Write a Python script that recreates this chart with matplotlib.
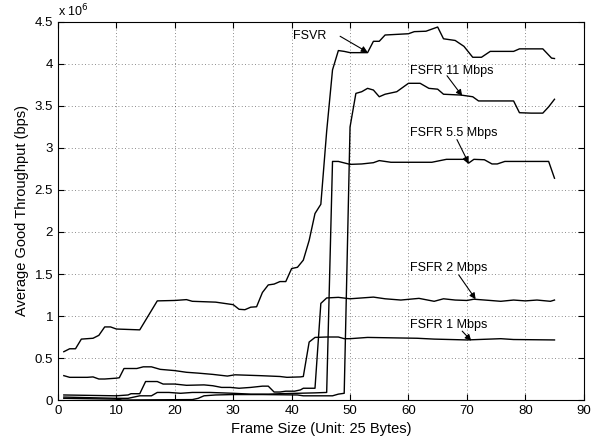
import matplotlib
matplotlib.use("Agg")
import matplotlib.pyplot as plt
from matplotlib.ticker import MultipleLocator, FuncFormatter

plt.rcParams['font.family'] = ['Liberation Sans', 'DejaVu Sans']

# ---- data (throughput in units of 1e6 bps) ----
fsvr_x = [1, 2, 3, 4, 5, 6, 7, 8, 9, 10, 12, 14, 17, 20, 22, 23, 27, 30, 31, 32, 33, 34, 35, 36, 37, 38, 39,
          40, 41, 42, 43, 44, 45, 46, 47, 48, 49, 50, 53, 54, 55, 56, 60, 61, 63, 65, 66, 68, 69.5, 71, 72.5,
          74, 78, 79, 83, 84.5, 85]
fsvr_y = [0.575, 0.61, 0.61, 0.725, 0.73, 0.735, 0.77, 0.87, 0.87, 0.845, 0.84, 0.835, 1.18, 1.185, 1.195,
          1.175, 1.165, 1.135, 1.08, 1.075, 1.105, 1.11, 1.28, 1.37, 1.38, 1.41, 1.41, 1.565, 1.58, 1.665, 1.9,
          2.22, 2.33, 3.2, 3.93, 4.16, 4.15, 4.135, 4.135, 4.27, 4.27, 4.345, 4.36, 4.385, 4.39, 4.44, 4.3,
          4.28, 4.21, 4.08, 4.08, 4.15, 4.15, 4.18, 4.18, 4.07, 4.065]

f11_x = [1, 10, 11, 23, 24, 25, 27, 30, 35, 41, 42, 47, 48, 49, 50, 51, 52, 53, 54, 55, 56, 58, 60, 62, 63.5,
         65, 66, 69, 71, 72, 78, 79, 81, 83, 84, 85]
f11_y = [0.02, 0.01, 0.0, 0.005, 0.02, 0.05, 0.06, 0.065, 0.065, 0.06, 0.05, 0.05, 0.07, 0.08, 3.25, 3.65,
         3.67, 3.71, 3.69, 3.61, 3.64, 3.67, 3.77, 3.77, 3.71, 3.70, 3.64, 3.63, 3.61, 3.56, 3.56, 3.42, 3.415,
         3.415, 3.49, 3.58]

f55_x = [1, 10, 12, 14, 16, 17, 19, 21, 23, 26, 30, 33, 36, 38, 41, 44, 46, 47, 48, 50, 52, 54, 55, 57, 64,
         66.5, 69.5, 70.3, 71.2, 73, 74.3, 75.2, 76.5, 84, 85]
f55_y = [0.035, 0.02, 0.02, 0.05, 0.05, 0.09, 0.09, 0.08, 0.09, 0.09, 0.08, 0.07, 0.07, 0.075, 0.08, 0.085,
         0.09, 2.84, 2.84, 2.805, 2.81, 2.825, 2.85, 2.83, 2.83, 2.865, 2.865, 2.82, 2.865, 2.86, 2.81, 2.81,
         2.84, 2.84, 2.64]

f2_x = [1, 10, 12, 12.5, 14, 15, 17, 18, 20, 22, 25, 26.5, 28, 29.5, 31, 33, 35, 36, 37, 38, 39, 40.5, 41.5,
        42, 44, 45, 46, 48, 50, 52, 54, 56, 58.7, 61.8, 64.4, 66, 68, 70, 71.2, 74, 75.8, 78, 80, 82, 84.3, 85]
f2_y = [0.06, 0.05, 0.06, 0.075, 0.075, 0.22, 0.22, 0.19, 0.19, 0.175, 0.18, 0.17, 0.15, 0.15, 0.14, 0.15,
        0.165, 0.165, 0.095, 0.095, 0.105, 0.105, 0.12, 0.14, 0.14, 1.15, 1.215, 1.222, 1.205, 1.215, 1.225,
        1.205, 1.19, 1.21, 1.175, 1.205, 1.19, 1.185, 1.2, 1.185, 1.175, 1.19, 1.18, 1.19, 1.175, 1.19]

f1_x = [1, 2, 5, 6, 7, 8, 10, 10.5, 11.3, 13.5, 14.6, 16, 17.5, 20, 22, 24, 26.5, 29, 30.3, 34.6, 38, 39.2,
        41.5, 42, 43, 44, 46, 48, 49, 50, 53, 61.5, 64.4, 70, 75.8, 78, 85]
f1_y = [0.29, 0.27, 0.27, 0.275, 0.25, 0.25, 0.26, 0.265, 0.375, 0.375, 0.395, 0.395, 0.365, 0.35, 0.33,
        0.32, 0.305, 0.285, 0.3, 0.29, 0.28, 0.27, 0.275, 0.28, 0.69, 0.745, 0.75, 0.75, 0.73, 0.73, 0.745,
        0.735, 0.725, 0.715, 0.73, 0.72, 0.715]

series = [(fsvr_x, fsvr_y), (f11_x, f11_y), (f55_x, f55_y), (f2_x, f2_y), (f1_x, f1_y)]

labels = ["FSVR", "FSFR 11 Mbps", "FSFR 5.5 Mbps", "FSFR 2 Mbps", "FSFR 1 Mbps"]
label_pos = [(40.3, 4.33), (60.3, 3.92), (60.3, 3.18), (60.3, 1.57), (60.3, 0.89)]
arrow_tail = [(48.3, 4.33), (66.6, 3.86), (68.3, 3.10), (68.6, 1.49), (69.2, 0.82)]
arrow_tip = [(53.0, 4.14), (69.2, 3.62), (70.3, 2.82), (71.5, 1.20), (70.75, 0.706)]

fig = plt.figure(figsize=(6.02, 4.45), dpi=100)
ax = fig.add_axes([0.0963, 0.1011, 0.8733, 0.8495])

for xs, ys in series:
    ax.plot(xs, [v * 1e6 for v in ys], color='black', lw=1.0)

for lab, p, t, h in zip(labels, label_pos, arrow_tail, arrow_tip):
    ax.text(p[0], p[1] * 1e6, lab, fontsize=9, ha='left', va='center')
    ax.annotate('', xy=(h[0], h[1] * 1e6), xytext=(t[0], t[1] * 1e6),
                arrowprops=dict(arrowstyle='-|>', color='black', lw=0.8, mutation_scale=9,
                                shrinkA=0, shrinkB=0))

ax.set_xlim(0, 90)
ax.set_ylim(0, 4.5e6)
ax.xaxis.set_major_locator(MultipleLocator(10))
ax.yaxis.set_major_locator(MultipleLocator(0.5e6))
ax.yaxis.set_major_formatter(FuncFormatter(lambda v, p: ('%g' % (v / 1e6))))
ax.tick_params(direction='in', top=True, right=True, labelsize=9.5, length=4)
ax.grid(True, linestyle=(0, (1, 3)), color='black', lw=0.6, alpha=0.6)
for s in ax.spines.values():
    s.set_linewidth(0.8)

ax.text(0.0, 1.008, r'x 10$^6$', transform=ax.transAxes, fontsize=9, ha='left', va='bottom')
ax.set_xlabel('Frame Size (Unit: 25 Bytes)', fontsize=10.5)
ax.set_ylabel('Average Good Throughput (bps)', fontsize=10.5)

fig.savefig('out.png', dpi=100)
